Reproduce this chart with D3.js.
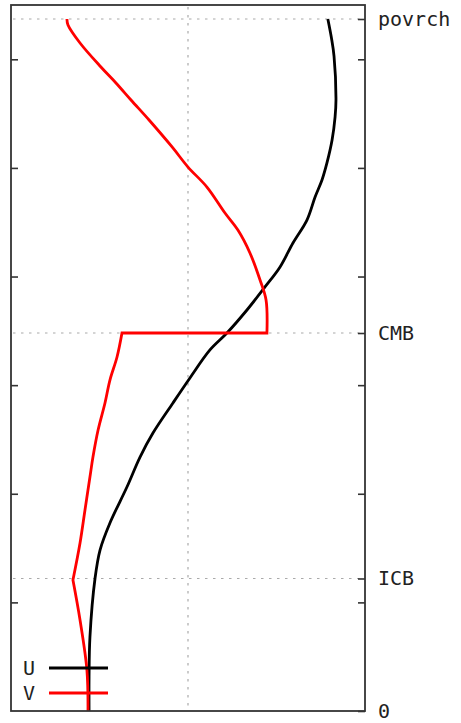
<!DOCTYPE html>
<html>
<head>
<meta charset="utf-8">
<script src="https://cdn.jsdelivr.net/npm/d3@7"></script>
<style>
  html, body { margin: 0; padding: 0; background: #fff; }
  svg { display: block; }
</style>
</head>
<body>
<svg id="chart" width="461" height="723"></svg>
<script>
// ---- data (radius in km, values in plot units) ----
const seriesNames = ["U", "V"];
const seriesColors = ["#000000", "#ff0000"];

const uRadius = [6371, 6200, 6030, 5625, 5469, 5257, 5046, 4889, 4732, 4520, 4309, 4088, 3904, 3692, 3480, 3324, 3066, 2836, 2559, 2338, 2062, 1731, 1482, 1224, 681, 313, 0];
const uValues = [1.79, 1.81, 1.825, 1.836, 1.831, 1.814, 1.785, 1.757, 1.718, 1.672, 1.593, 1.52, 1.435, 1.333, 1.22, 1.124, 1.011, 0.915, 0.802, 0.729, 0.655, 0.559, 0.503, 0.475, 0.446, 0.441, 0.441];

const vRadius = [6371, 6316, 6150, 5929, 5782, 5625, 5441, 5193, 5008, 4824, 4585, 4428, 4217, 3968, 3784, 3480, 3480, 3259, 3047, 2836, 2587, 2338, 2154, 1851, 1547, 1206, 838, 377, 0];
const vValues = [0.316, 0.322, 0.39, 0.508, 0.593, 0.678, 0.78, 0.91, 1.0, 1.107, 1.209, 1.282, 1.35, 1.407, 1.441, 1.446, 0.627, 0.599, 0.559, 0.531, 0.492, 0.463, 0.446, 0.418, 0.39, 0.35, 0.39, 0.429, 0.435];
// V has sharp corners at the CMB jump and at the ICB (indices where smooth pieces break)
const vBreaks = [15, 16, 25];

const minorTicks = [1000, 2000, 3000, 4000, 5000, 6000];
const labelTicks = [0, 1220, 3480, 6371];
const labelNames = ["0", "ICB", "CMB", "povrch"];
const gridRadii = [1220, 3480, 6371];
const gridValues = [1];

// ---- layout ----
const svg = d3.select("#chart");
const pLeft = 11, pRight = 365, pTop = 5, pBottom = 711;
const y = d3.scaleLinear().domain([0, 6371]).range([711, 19]);
const x = d3.scaleLinear().domain([0, 2]).range([pLeft, pRight]);
const font = "'DejaVu Sans Mono', monospace";

// grid
const grid = svg.append("g").attr("stroke", "#aaa").attr("stroke-width", 1.2)
  .attr("stroke-dasharray", "2.5,5.5");
grid.selectAll("line.h").data(gridRadii).join("line").attr("class", "h")
  .attr("x1", pLeft + 2).attr("x2", pRight - 2)
  .attr("y1", d => y(d)).attr("y2", d => y(d));
grid.selectAll("line.v").data(gridValues).join("line").attr("class", "v")
  .attr("x1", d => x(d)).attr("x2", d => x(d))
  .attr("y1", pTop + 2).attr("y2", pBottom - 2);

// axes
const leftAxis = d3.axisLeft(y).tickValues(minorTicks).tickSizeInner(-7).tickSizeOuter(0).tickFormat("");
const gl = svg.append("g").attr("transform", `translate(${pLeft},0)`).call(leftAxis);
gl.select(".domain").remove();
gl.selectAll(".tick line").attr("stroke", "#333").attr("stroke-width", 1.6);

const rightAxis = d3.axisRight(y).tickValues(minorTicks.concat(labelTicks)).tickSizeInner(-7).tickSizeOuter(0)
  .tickPadding(13)
  .tickFormat(d => { const i = labelTicks.indexOf(d); return i >= 0 ? labelNames[i] : ""; });
const gr = svg.append("g").attr("transform", `translate(${pRight},0)`).call(rightAxis);
gr.select(".domain").remove();
gr.selectAll(".tick line").attr("stroke", "#333").attr("stroke-width", 1.6);
gr.selectAll(".tick text").attr("font-family", font).attr("font-size", 20).attr("fill", "#222");

// lines
const uData = uRadius.map((r, i) => ({ r, v: uValues[i] }));
const vData = vRadius.map((r, i) => ({ r, v: vValues[i] }));
const lineSmooth = d3.line().x(d => x(d.v)).y(d => y(d.r)).curve(d3.curveCatmullRom);

svg.append("path").datum(uData).attr("d", lineSmooth).attr("fill", "none")
  .attr("stroke", seriesColors[0]).attr("stroke-width", 2.8);

// V: smooth pieces joined by straight segments at the break points
const cuts = [0].concat(vBreaks, [vData.length - 1]);
let vPath = "";
for (let k = 0; k < cuts.length - 1; k++) {
  const piece = vData.slice(cuts[k], cuts[k + 1] + 1);
  let d = lineSmooth(piece);
  if (k > 0) d = "L" + d.slice(1);
  vPath += d;
}
svg.append("path").attr("d", vPath).attr("fill", "none")
  .attr("stroke", seriesColors[1]).attr("stroke-width", 2.8).attr("stroke-linejoin", "miter");

// frame
svg.append("rect").attr("x", pLeft).attr("y", pTop).attr("width", pRight - pLeft).attr("height", pBottom - pTop)
  .attr("fill", "none").attr("stroke", "#333").attr("stroke-width", 1.8);

// legend
const legY = [668, 693];
const lg = svg.append("g");
seriesNames.forEach((n, i) => {
  lg.append("line").attr("x1", 49).attr("x2", 108).attr("y1", legY[i]).attr("y2", legY[i])
    .attr("stroke", seriesColors[i]).attr("stroke-width", 2.8);
  lg.append("text").attr("x", 29).attr("y", legY[i]).attr("dy", "0.35em").attr("text-anchor", "middle")
    .attr("font-family", font).attr("font-size", 20).attr("fill", "#222").text(n);
});
</script>
</body>
</html>
